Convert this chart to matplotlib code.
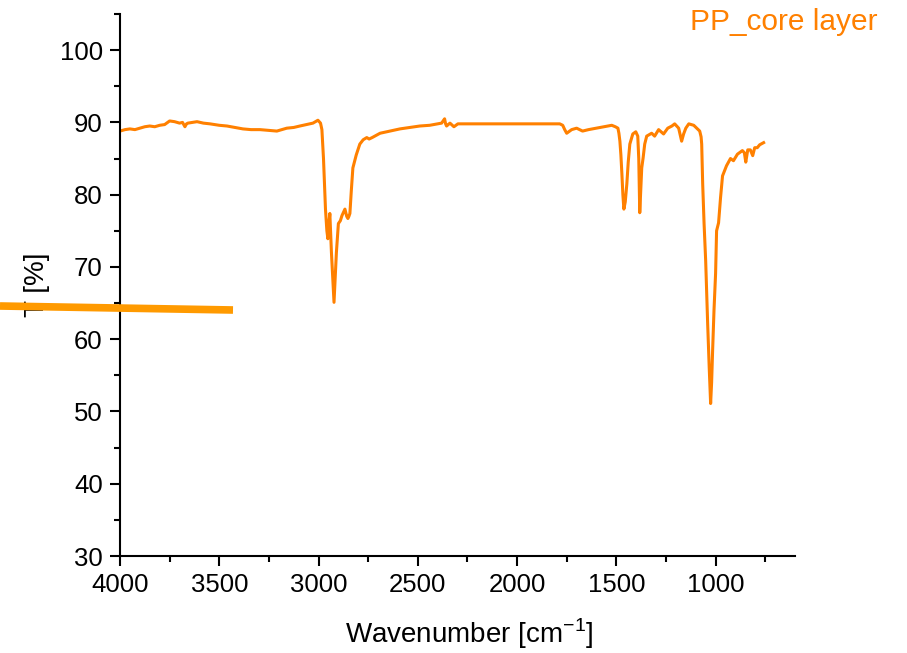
import matplotlib
matplotlib.use("Agg")
import matplotlib.pyplot as plt
from matplotlib.lines import Line2D
from matplotlib.ticker import MultipleLocator

plt.rcParams['font.family'] = ['Liberation Sans', 'DejaVu Sans']
plt.rcParams['mathtext.fontset'] = 'custom'
plt.rcParams['mathtext.rm'] = 'Liberation Sans'

# spectrum (wavenumber in cm-1, transmittance in %)
wavenumber = [4000, 3975, 3950, 3925, 3900, 3875, 3850, 3825, 3800, 3775, 3750, 3725,
              3700, 3685, 3673, 3665, 3658, 3635, 3612, 3580, 3547, 3500, 3461, 3420,
              3381, 3340, 3295, 3250, 3210, 3185, 3160, 3125, 3094, 3060, 3028, 3003,
              2990, 2983, 2975, 2965, 2958, 2953, 2948, 2943, 2935, 2922, 2910, 2900,
              2890, 2882, 2867, 2858, 2852, 2847, 2842, 2835, 2827, 2810, 2792, 2775,
              2757, 2745, 2730, 2690, 2640, 2590, 2540, 2490, 2440, 2400, 2380, 2365,
              2360, 2355, 2338, 2318, 2298, 2250, 2150, 2050, 1950, 1850, 1785, 1770,
              1760, 1750, 1740, 1725, 1700, 1670, 1640, 1600, 1560, 1523, 1505, 1492,
              1487, 1482, 1477, 1472, 1467, 1462, 1455, 1447, 1440, 1432, 1417, 1402,
              1392, 1387, 1382, 1377, 1372, 1365, 1357, 1347, 1335, 1322, 1307, 1287,
              1262, 1241, 1220, 1206, 1186, 1171, 1161, 1150, 1135, 1110, 1095, 1080,
              1073, 1070, 1065, 1058, 1050, 1040, 1032, 1025, 1020, 1015, 1008, 1000,
              995, 985, 975, 965, 945, 925, 910, 890, 865, 855, 848, 838, 825, 813, 803,
              790, 778, 758]
transmittance = [88.8, 89.0, 89.1, 89.0, 89.2, 89.4, 89.5, 89.4, 89.6, 89.7, 90.2, 90.1,
                 89.9, 90.0, 89.4, 89.8, 89.9, 90.0, 90.1, 89.9, 89.8, 89.6, 89.5, 89.3,
                 89.1, 89.0, 89.0, 88.9, 88.8, 89.0, 89.2, 89.3, 89.5, 89.7, 89.9, 90.3,
                 89.9, 89.0, 85.0, 78.0, 75.0, 73.9, 76.0, 77.4, 72.0, 65.1, 72.0, 76.0,
                 76.4, 77.1, 78.0, 77.0, 76.7, 77.0, 77.4, 80.5, 83.7, 85.5, 87.0, 87.6,
                 87.9, 87.7, 87.9, 88.5, 88.8, 89.1, 89.3, 89.5, 89.6, 89.8, 89.9, 90.5,
                 89.8, 89.5, 89.9, 89.4, 89.8, 89.8, 89.8, 89.8, 89.8, 89.8, 89.8, 89.6,
                 89.0, 88.5, 88.7, 89.0, 89.2, 88.8, 89.0, 89.2, 89.4, 89.6, 89.4, 89.2,
                 88.5, 87.4, 85.5, 82.9, 80.0, 78.0, 79.0, 81.5, 84.5, 87.0, 88.4, 88.7,
                 88.1, 85.0, 77.5, 80.5, 83.7, 85.1, 87.0, 88.1, 88.3, 88.5, 88.1, 89.0,
                 88.4, 89.2, 89.5, 89.8, 89.2, 87.4, 88.4, 89.2, 89.8, 89.6, 89.2, 88.8,
                 88.0, 87.0, 81.5, 76.0, 70.9, 62.2, 56.0, 51.1, 54.0, 58.4, 64.0, 69.1,
                 75.0, 76.1, 79.6, 82.6, 84.0, 85.0, 84.7, 85.6, 86.1, 85.8, 84.5, 86.2,
                 86.2, 85.4, 86.5, 86.5, 86.9, 87.2]

line_color = '#ff8000'

fig = plt.figure(figsize=(9.07, 6.53), dpi=100)
ax = fig.add_axes([120 / 907, 97 / 653, 675 / 907, 542 / 653])

ax.plot(wavenumber, transmittance, color=line_color, lw=2.2)

ax.set_xlim(4000, 600)
ax.xaxis.set_major_locator(MultipleLocator(500))
ax.xaxis.set_minor_locator(MultipleLocator(250))
ax.yaxis.set_minor_locator(MultipleLocator(5))
ax.set_yticks([30, 40, 50, 60, 70, 80, 90, 100])
ax.set_ylim(30, 105)

for side in ['top', 'right']:
    ax.spines[side].set_visible(False)
for side in ['left', 'bottom']:
    ax.spines[side].set_linewidth(1.5)

ax.tick_params(which='major', direction='out', length=7.5, width=1.5, labelsize=18.5, pad=5)
ax.tick_params(which='minor', direction='out', length=4, width=1.5)

ax.set_xlabel('Wavenumber [cm$^{-1}$]', fontsize=20, va='top')
ax.xaxis.set_label_coords(0.518, -0.112)
ax.set_ylabel('T [%]', fontsize=20)
ax.yaxis.set_label_coords(-0.104, 0.5)

fig.text(878 / 907, 1 - 22 / 653, 'PP_core layer', color=line_color, fontsize=21.5,
         ha='right', va='center')

# thick orange stroke crossing the y label
fig.add_artist(Line2D([0, 233 / 907], [1 - 306 / 653, 1 - 310 / 653],
                      transform=fig.transFigure, color='#ff9a00', lw=5.5,
                      solid_capstyle='butt'))

fig.savefig('out.png', dpi=100)
